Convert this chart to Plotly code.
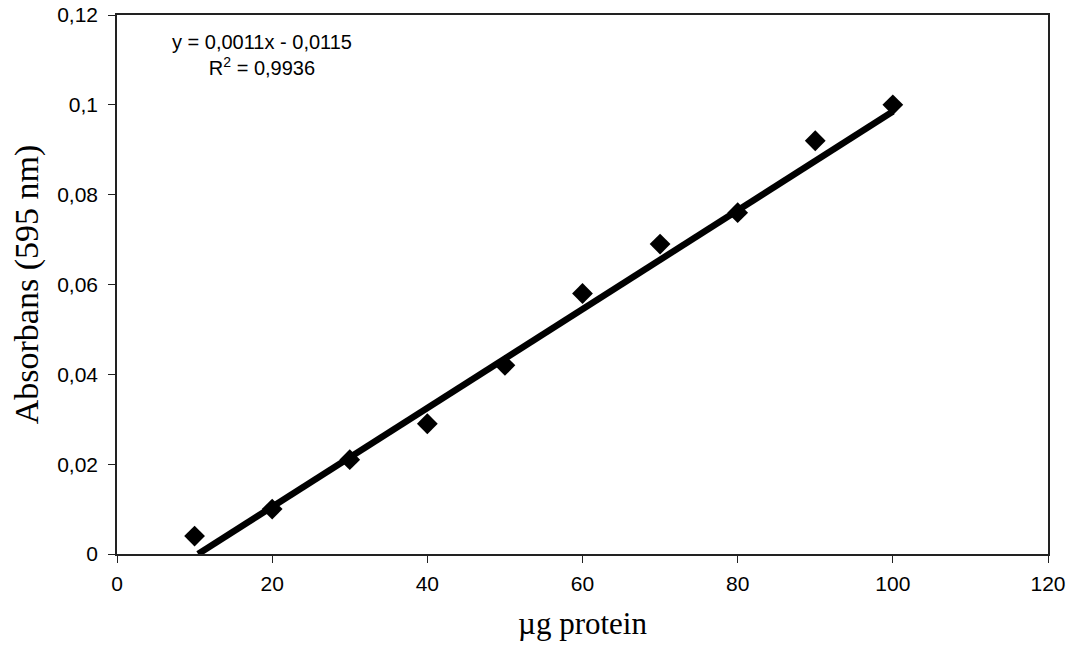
import plotly.graph_objects as go

protein_ug = [10, 20, 30, 40, 50, 60, 70, 80, 90, 100]
absorbance = [0.004, 0.010, 0.021, 0.029, 0.042, 0.058, 0.069, 0.076, 0.092, 0.100]

slope = 0.0011
intercept = -0.0115
trend_x = [-intercept / slope, 100]
trend_y = [slope * x + intercept for x in trend_x]

x_ticks = [0, 20, 40, 60, 80, 100, 120]
y_ticks = [0, 0.02, 0.04, 0.06, 0.08, 0.1, 0.12]
y_tick_labels = ["0", "0,02", "0,04", "0,06", "0,08", "0,1", "0,12"]

fig = go.Figure()
fig.add_trace(go.Scatter(x=trend_x, y=trend_y, mode="lines",
                         line=dict(color="black", width=6.5), showlegend=False))
fig.add_trace(go.Scatter(x=protein_ug, y=absorbance, mode="markers",
                         marker=dict(symbol="diamond", size=16, color="black"),
                         showlegend=False))

fig.add_annotation(x=18.7, y=0.1112, xref="x", yref="y", showarrow=False,
                   text="y = 0,0011x - 0,0115<br>R<sup>2</sup> = 0,9936",
                   font=dict(family="Liberation Sans, Arial", size=20, color="black"),
                   align="center")

fig.update_layout(
    width=1085, height=656,
    margin=dict(l=117, r=37, t=15, b=102),
    paper_bgcolor="white", plot_bgcolor="white",
    font=dict(family="Liberation Sans, Arial", color="black"),
)
fig.update_xaxes(range=[0, 120], tickvals=x_ticks, ticktext=[str(v) for v in x_ticks],
                 automargin=False,
                 showgrid=False, zeroline=False, showline=True, linecolor="#222", linewidth=1.5,
                 mirror=True, ticks="outside", ticklen=7, tickcolor="#222", ticklabelstandoff=3,
                 ticklabeloverflow="allow",
                 tickfont=dict(size=21, family="Liberation Sans, Arial"),
                 title=dict(text="µg protein", font=dict(family="Liberation Serif, Times New Roman", size=31), standoff=18))
fig.update_yaxes(range=[0, 0.12], tickvals=y_ticks, ticktext=y_tick_labels,
                 automargin=False,
                 showgrid=False, zeroline=False, showline=True, linecolor="#222", linewidth=1.5,
                 mirror=True, ticks="outside", ticklen=7, tickcolor="#222", ticklabelstandoff=6,
                 ticklabeloverflow="allow",
                 tickfont=dict(size=21, family="Liberation Sans, Arial"),
                 title=dict(text="Absorbans (595 nm)", font=dict(family="Liberation Serif, Times New Roman", size=34), standoff=8))

fig.write_html("out.html", config={"displayModeBar": False},
               post_script="document.body.style.margin='0';")
